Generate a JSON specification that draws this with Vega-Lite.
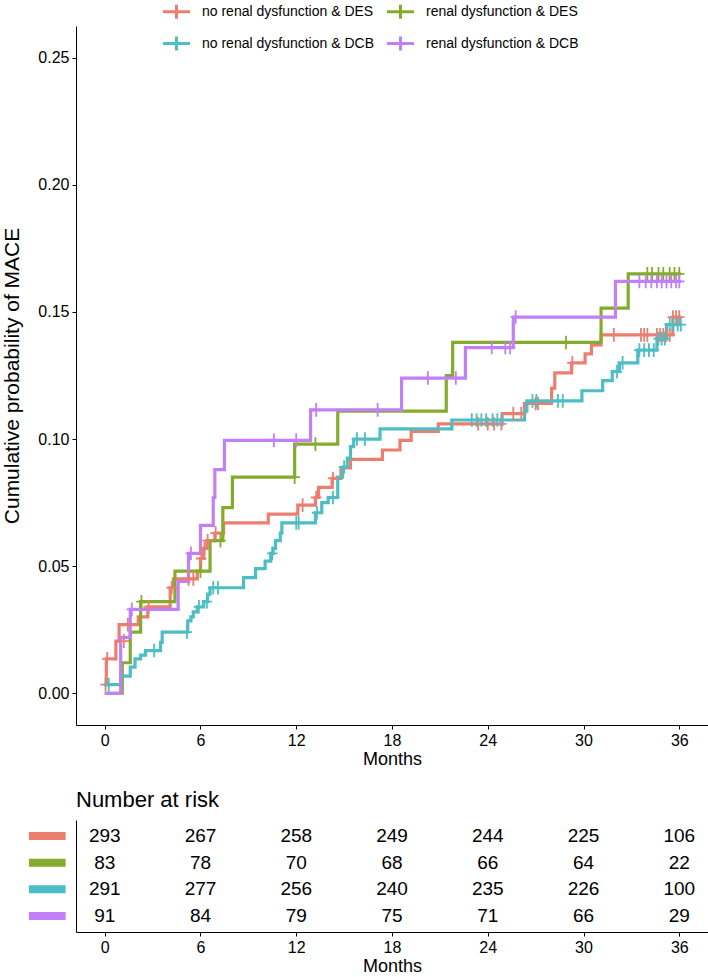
{
  "$schema": "https://vega.github.io/schema/vega-lite/v6.json",
  "padding": {"left": 1, "top": 1, "right": 0, "bottom": 0},
  "bounds": "flush",
  "spacing": 95,
  "config": {
    "font": "Liberation Sans",
    "view": {"stroke": null},
    "axis": {
      "grid": false,
      "domainColor": "black",
      "tickColor": "black",
      "labelColor": "black",
      "titleColor": "black",
      "labelFont": "Liberation Sans",
      "titleFont": "Liberation Sans",
      "labelFontSize": 16,
      "titleFontSize": 18,
      "titleFontWeight": "normal",
      "tickSize": 4,
      "labelPadding": 3
    }
  },
  "datasets": {
    "curves": [
      {"group": "no renal dysfunction & DES", "t": 0, "p": 0.0034},
      {"group": "no renal dysfunction & DES", "t": 0.1, "p": 0.0135},
      {"group": "no renal dysfunction & DES", "t": 0.7, "p": 0.0205},
      {"group": "no renal dysfunction & DES", "t": 0.9, "p": 0.027},
      {"group": "no renal dysfunction & DES", "t": 2.1, "p": 0.030},
      {"group": "no renal dysfunction & DES", "t": 2.7, "p": 0.034},
      {"group": "no renal dysfunction & DES", "t": 4.1, "p": 0.0415},
      {"group": "no renal dysfunction & DES", "t": 4.3, "p": 0.045},
      {"group": "no renal dysfunction & DES", "t": 5.8, "p": 0.048},
      {"group": "no renal dysfunction & DES", "t": 6.0, "p": 0.053},
      {"group": "no renal dysfunction & DES", "t": 6.2, "p": 0.057},
      {"group": "no renal dysfunction & DES", "t": 6.4, "p": 0.060},
      {"group": "no renal dysfunction & DES", "t": 6.9, "p": 0.063},
      {"group": "no renal dysfunction & DES", "t": 7.45, "p": 0.067},
      {"group": "no renal dysfunction & DES", "t": 10.25, "p": 0.0705},
      {"group": "no renal dysfunction & DES", "t": 12.1, "p": 0.074},
      {"group": "no renal dysfunction & DES", "t": 13.2, "p": 0.077},
      {"group": "no renal dysfunction & DES", "t": 13.4, "p": 0.081},
      {"group": "no renal dysfunction & DES", "t": 14.25, "p": 0.0845},
      {"group": "no renal dysfunction & DES", "t": 14.8, "p": 0.0886},
      {"group": "no renal dysfunction & DES", "t": 15.4, "p": 0.092},
      {"group": "no renal dysfunction & DES", "t": 17.4, "p": 0.0957},
      {"group": "no renal dysfunction & DES", "t": 18.5, "p": 0.0995},
      {"group": "no renal dysfunction & DES", "t": 19.2, "p": 0.103},
      {"group": "no renal dysfunction & DES", "t": 20.9, "p": 0.106},
      {"group": "no renal dysfunction & DES", "t": 24.9, "p": 0.110},
      {"group": "no renal dysfunction & DES", "t": 26.3, "p": 0.114},
      {"group": "no renal dysfunction & DES", "t": 28.0, "p": 0.120},
      {"group": "no renal dysfunction & DES", "t": 28.2, "p": 0.126},
      {"group": "no renal dysfunction & DES", "t": 29.25, "p": 0.130},
      {"group": "no renal dysfunction & DES", "t": 30.1, "p": 0.1335},
      {"group": "no renal dysfunction & DES", "t": 30.5, "p": 0.137},
      {"group": "no renal dysfunction & DES", "t": 31.1, "p": 0.141},
      {"group": "no renal dysfunction & DES", "t": 35.6, "p": 0.148},
      {"group": "no renal dysfunction & DES", "t": 36.1, "p": 0.148},
      {"group": "renal dysfunction & DES", "t": 0, "p": 0},
      {"group": "renal dysfunction & DES", "t": 1.1, "p": 0.012},
      {"group": "renal dysfunction & DES", "t": 1.6, "p": 0.024},
      {"group": "renal dysfunction & DES", "t": 2.25, "p": 0.036},
      {"group": "renal dysfunction & DES", "t": 4.4, "p": 0.048},
      {"group": "renal dysfunction & DES", "t": 6.6, "p": 0.060},
      {"group": "renal dysfunction & DES", "t": 7.4, "p": 0.073},
      {"group": "renal dysfunction & DES", "t": 8.0, "p": 0.085},
      {"group": "renal dysfunction & DES", "t": 11.9, "p": 0.098},
      {"group": "renal dysfunction & DES", "t": 14.6, "p": 0.111},
      {"group": "renal dysfunction & DES", "t": 21.4, "p": 0.125},
      {"group": "renal dysfunction & DES", "t": 21.8, "p": 0.138},
      {"group": "renal dysfunction & DES", "t": 31.1, "p": 0.1515},
      {"group": "renal dysfunction & DES", "t": 32.8, "p": 0.165},
      {"group": "renal dysfunction & DES", "t": 36.1, "p": 0.165},
      {"group": "no renal dysfunction & DCB", "t": 0, "p": 0.0034},
      {"group": "no renal dysfunction & DCB", "t": 1.0, "p": 0.0067},
      {"group": "no renal dysfunction & DCB", "t": 1.6, "p": 0.0103},
      {"group": "no renal dysfunction & DCB", "t": 1.9, "p": 0.0135},
      {"group": "no renal dysfunction & DCB", "t": 2.25, "p": 0.015},
      {"group": "no renal dysfunction & DCB", "t": 2.55, "p": 0.0168},
      {"group": "no renal dysfunction & DCB", "t": 3.5, "p": 0.020},
      {"group": "no renal dysfunction & DCB", "t": 3.6, "p": 0.024},
      {"group": "no renal dysfunction & DCB", "t": 5.2, "p": 0.0285},
      {"group": "no renal dysfunction & DCB", "t": 5.4, "p": 0.030},
      {"group": "no renal dysfunction & DCB", "t": 5.55, "p": 0.032},
      {"group": "no renal dysfunction & DCB", "t": 5.8, "p": 0.034},
      {"group": "no renal dysfunction & DCB", "t": 6.2, "p": 0.036},
      {"group": "no renal dysfunction & DCB", "t": 6.45, "p": 0.039},
      {"group": "no renal dysfunction & DCB", "t": 6.6, "p": 0.0415},
      {"group": "no renal dysfunction & DCB", "t": 8.7, "p": 0.0455},
      {"group": "no renal dysfunction & DCB", "t": 9.45, "p": 0.049},
      {"group": "no renal dysfunction & DCB", "t": 10.05, "p": 0.052},
      {"group": "no renal dysfunction & DCB", "t": 10.4, "p": 0.055},
      {"group": "no renal dysfunction & DCB", "t": 10.55, "p": 0.057},
      {"group": "no renal dysfunction & DCB", "t": 10.7, "p": 0.060},
      {"group": "no renal dysfunction & DCB", "t": 11.0, "p": 0.063},
      {"group": "no renal dysfunction & DCB", "t": 11.1, "p": 0.067},
      {"group": "no renal dysfunction & DCB", "t": 13.2, "p": 0.071},
      {"group": "no renal dysfunction & DCB", "t": 13.6, "p": 0.075},
      {"group": "no renal dysfunction & DCB", "t": 14.0, "p": 0.077},
      {"group": "no renal dysfunction & DCB", "t": 14.6, "p": 0.085},
      {"group": "no renal dysfunction & DCB", "t": 14.9, "p": 0.089},
      {"group": "no renal dysfunction & DCB", "t": 15.2, "p": 0.0925},
      {"group": "no renal dysfunction & DCB", "t": 15.4, "p": 0.097},
      {"group": "no renal dysfunction & DCB", "t": 15.6, "p": 0.100},
      {"group": "no renal dysfunction & DCB", "t": 17.25, "p": 0.104},
      {"group": "no renal dysfunction & DCB", "t": 21.75, "p": 0.1075},
      {"group": "no renal dysfunction & DCB", "t": 26.3, "p": 0.111},
      {"group": "no renal dysfunction & DCB", "t": 26.45, "p": 0.115},
      {"group": "no renal dysfunction & DCB", "t": 29.9, "p": 0.119},
      {"group": "no renal dysfunction & DCB", "t": 31.2, "p": 0.123},
      {"group": "no renal dysfunction & DCB", "t": 31.8, "p": 0.1265},
      {"group": "no renal dysfunction & DCB", "t": 32.25, "p": 0.130},
      {"group": "no renal dysfunction & DCB", "t": 33.4, "p": 0.135},
      {"group": "no renal dysfunction & DCB", "t": 34.6, "p": 0.1395},
      {"group": "no renal dysfunction & DCB", "t": 35.2, "p": 0.145},
      {"group": "no renal dysfunction & DCB", "t": 36.1, "p": 0.145},
      {"group": "renal dysfunction & DCB", "t": 0, "p": 0},
      {"group": "renal dysfunction & DCB", "t": 1.0, "p": 0.022},
      {"group": "renal dysfunction & DCB", "t": 1.6, "p": 0.033},
      {"group": "renal dysfunction & DCB", "t": 4.6, "p": 0.044},
      {"group": "renal dysfunction & DCB", "t": 5.25, "p": 0.055},
      {"group": "renal dysfunction & DCB", "t": 6.0, "p": 0.066},
      {"group": "renal dysfunction & DCB", "t": 6.8, "p": 0.077},
      {"group": "renal dysfunction & DCB", "t": 6.9, "p": 0.088},
      {"group": "renal dysfunction & DCB", "t": 7.5, "p": 0.0995},
      {"group": "renal dysfunction & DCB", "t": 12.9, "p": 0.1115},
      {"group": "renal dysfunction & DCB", "t": 18.6, "p": 0.124},
      {"group": "renal dysfunction & DCB", "t": 22.6, "p": 0.136},
      {"group": "renal dysfunction & DCB", "t": 25.6, "p": 0.148},
      {"group": "renal dysfunction & DCB", "t": 32.0, "p": 0.162},
      {"group": "renal dysfunction & DCB", "t": 36.1, "p": 0.162}
    ],
    "censors": [
      {"group": "no renal dysfunction & DES", "t": 0.05, "p": 0.0034},
      {"group": "no renal dysfunction & DES", "t": 0.15, "p": 0.0135},
      {"group": "no renal dysfunction & DES", "t": 1.2, "p": 0.0205},
      {"group": "no renal dysfunction & DES", "t": 1.45, "p": 0.027},
      {"group": "no renal dysfunction & DES", "t": 2.75, "p": 0.034},
      {"group": "no renal dysfunction & DES", "t": 4.2, "p": 0.0415},
      {"group": "no renal dysfunction & DES", "t": 5.25, "p": 0.045},
      {"group": "no renal dysfunction & DES", "t": 5.55, "p": 0.045},
      {"group": "no renal dysfunction & DES", "t": 6.05, "p": 0.053},
      {"group": "no renal dysfunction & DES", "t": 6.25, "p": 0.057},
      {"group": "no renal dysfunction & DES", "t": 6.45, "p": 0.060},
      {"group": "no renal dysfunction & DES", "t": 6.95, "p": 0.063},
      {"group": "no renal dysfunction & DES", "t": 12.4, "p": 0.074},
      {"group": "no renal dysfunction & DES", "t": 13.25, "p": 0.077},
      {"group": "no renal dysfunction & DES", "t": 14.3, "p": 0.0845},
      {"group": "no renal dysfunction & DES", "t": 23.4, "p": 0.106},
      {"group": "no renal dysfunction & DES", "t": 24.0, "p": 0.106},
      {"group": "no renal dysfunction & DES", "t": 24.4, "p": 0.106},
      {"group": "no renal dysfunction & DES", "t": 24.85, "p": 0.106},
      {"group": "no renal dysfunction & DES", "t": 25.6, "p": 0.110},
      {"group": "no renal dysfunction & DES", "t": 26.1, "p": 0.110},
      {"group": "no renal dysfunction & DES", "t": 27.0, "p": 0.114},
      {"group": "no renal dysfunction & DES", "t": 27.15, "p": 0.114},
      {"group": "no renal dysfunction & DES", "t": 29.3, "p": 0.130},
      {"group": "no renal dysfunction & DES", "t": 31.9, "p": 0.141},
      {"group": "no renal dysfunction & DES", "t": 33.6, "p": 0.141},
      {"group": "no renal dysfunction & DES", "t": 33.8, "p": 0.141},
      {"group": "no renal dysfunction & DES", "t": 34.0, "p": 0.141},
      {"group": "no renal dysfunction & DES", "t": 34.6, "p": 0.141},
      {"group": "no renal dysfunction & DES", "t": 34.8, "p": 0.141},
      {"group": "no renal dysfunction & DES", "t": 35.0, "p": 0.141},
      {"group": "no renal dysfunction & DES", "t": 35.2, "p": 0.141},
      {"group": "no renal dysfunction & DES", "t": 35.4, "p": 0.141},
      {"group": "no renal dysfunction & DES", "t": 35.6, "p": 0.148},
      {"group": "no renal dysfunction & DES", "t": 35.8, "p": 0.148},
      {"group": "no renal dysfunction & DES", "t": 36.0, "p": 0.148},
      {"group": "renal dysfunction & DES", "t": 2.3, "p": 0.036},
      {"group": "renal dysfunction & DES", "t": 6.0, "p": 0.048},
      {"group": "renal dysfunction & DES", "t": 7.25, "p": 0.060},
      {"group": "renal dysfunction & DES", "t": 11.9, "p": 0.085},
      {"group": "renal dysfunction & DES", "t": 13.2, "p": 0.098},
      {"group": "renal dysfunction & DES", "t": 28.9, "p": 0.138},
      {"group": "renal dysfunction & DES", "t": 34.0, "p": 0.165},
      {"group": "renal dysfunction & DES", "t": 34.3, "p": 0.165},
      {"group": "renal dysfunction & DES", "t": 34.7, "p": 0.165},
      {"group": "renal dysfunction & DES", "t": 35.0, "p": 0.165},
      {"group": "renal dysfunction & DES", "t": 35.4, "p": 0.165},
      {"group": "renal dysfunction & DES", "t": 35.7, "p": 0.165},
      {"group": "renal dysfunction & DES", "t": 36.0, "p": 0.165},
      {"group": "no renal dysfunction & DCB", "t": 0.25, "p": 0.0034},
      {"group": "no renal dysfunction & DCB", "t": 3.1, "p": 0.0168},
      {"group": "no renal dysfunction & DCB", "t": 5.15, "p": 0.024},
      {"group": "no renal dysfunction & DCB", "t": 5.9, "p": 0.034},
      {"group": "no renal dysfunction & DCB", "t": 6.4, "p": 0.036},
      {"group": "no renal dysfunction & DCB", "t": 6.8, "p": 0.0415},
      {"group": "no renal dysfunction & DCB", "t": 7.1, "p": 0.0415},
      {"group": "no renal dysfunction & DCB", "t": 10.5, "p": 0.055},
      {"group": "no renal dysfunction & DCB", "t": 12.0, "p": 0.067},
      {"group": "no renal dysfunction & DCB", "t": 12.15, "p": 0.067},
      {"group": "no renal dysfunction & DCB", "t": 13.3, "p": 0.071},
      {"group": "no renal dysfunction & DCB", "t": 14.3, "p": 0.077},
      {"group": "no renal dysfunction & DCB", "t": 15.0, "p": 0.089},
      {"group": "no renal dysfunction & DCB", "t": 15.8, "p": 0.100},
      {"group": "no renal dysfunction & DCB", "t": 16.3, "p": 0.100},
      {"group": "no renal dysfunction & DCB", "t": 23.0, "p": 0.1075},
      {"group": "no renal dysfunction & DCB", "t": 23.3, "p": 0.1075},
      {"group": "no renal dysfunction & DCB", "t": 23.6, "p": 0.1075},
      {"group": "no renal dysfunction & DCB", "t": 23.9, "p": 0.1075},
      {"group": "no renal dysfunction & DCB", "t": 24.3, "p": 0.1075},
      {"group": "no renal dysfunction & DCB", "t": 24.6, "p": 0.1075},
      {"group": "no renal dysfunction & DCB", "t": 24.9, "p": 0.1075},
      {"group": "no renal dysfunction & DCB", "t": 26.8, "p": 0.115},
      {"group": "no renal dysfunction & DCB", "t": 27.05, "p": 0.115},
      {"group": "no renal dysfunction & DCB", "t": 28.4, "p": 0.115},
      {"group": "no renal dysfunction & DCB", "t": 28.7, "p": 0.115},
      {"group": "no renal dysfunction & DCB", "t": 32.1, "p": 0.1265},
      {"group": "no renal dysfunction & DCB", "t": 32.45, "p": 0.130},
      {"group": "no renal dysfunction & DCB", "t": 33.5, "p": 0.135},
      {"group": "no renal dysfunction & DCB", "t": 33.8, "p": 0.135},
      {"group": "no renal dysfunction & DCB", "t": 34.1, "p": 0.135},
      {"group": "no renal dysfunction & DCB", "t": 34.4, "p": 0.135},
      {"group": "no renal dysfunction & DCB", "t": 34.7, "p": 0.1395},
      {"group": "no renal dysfunction & DCB", "t": 34.9, "p": 0.1395},
      {"group": "no renal dysfunction & DCB", "t": 35.1, "p": 0.1395},
      {"group": "no renal dysfunction & DCB", "t": 35.4, "p": 0.145},
      {"group": "no renal dysfunction & DCB", "t": 35.6, "p": 0.145},
      {"group": "no renal dysfunction & DCB", "t": 35.9, "p": 0.145},
      {"group": "no renal dysfunction & DCB", "t": 36.1, "p": 0.145},
      {"group": "renal dysfunction & DCB", "t": 1.7, "p": 0.033},
      {"group": "renal dysfunction & DCB", "t": 5.4, "p": 0.055},
      {"group": "renal dysfunction & DCB", "t": 10.6, "p": 0.0995},
      {"group": "renal dysfunction & DCB", "t": 12.0, "p": 0.0995},
      {"group": "renal dysfunction & DCB", "t": 13.25, "p": 0.1115},
      {"group": "renal dysfunction & DCB", "t": 17.1, "p": 0.1115},
      {"group": "renal dysfunction & DCB", "t": 20.25, "p": 0.124},
      {"group": "renal dysfunction & DCB", "t": 22.0, "p": 0.124},
      {"group": "renal dysfunction & DCB", "t": 24.25, "p": 0.136},
      {"group": "renal dysfunction & DCB", "t": 25.1, "p": 0.136},
      {"group": "renal dysfunction & DCB", "t": 25.4, "p": 0.136},
      {"group": "renal dysfunction & DCB", "t": 25.75, "p": 0.148},
      {"group": "renal dysfunction & DCB", "t": 33.5, "p": 0.162},
      {"group": "renal dysfunction & DCB", "t": 33.9, "p": 0.162},
      {"group": "renal dysfunction & DCB", "t": 34.25, "p": 0.162},
      {"group": "renal dysfunction & DCB", "t": 34.6, "p": 0.162},
      {"group": "renal dysfunction & DCB", "t": 34.9, "p": 0.162},
      {"group": "renal dysfunction & DCB", "t": 35.2, "p": 0.162},
      {"group": "renal dysfunction & DCB", "t": 35.5, "p": 0.162},
      {"group": "renal dysfunction & DCB", "t": 35.8, "p": 0.162},
      {"group": "renal dysfunction & DCB", "t": 36.0, "p": 0.162}
    ],
    "risk": [
      {"group": "no renal dysfunction & DES", "t": 0, "n": 293},
      {"group": "no renal dysfunction & DES", "t": 6, "n": 267},
      {"group": "no renal dysfunction & DES", "t": 12, "n": 258},
      {"group": "no renal dysfunction & DES", "t": 18, "n": 249},
      {"group": "no renal dysfunction & DES", "t": 24, "n": 244},
      {"group": "no renal dysfunction & DES", "t": 30, "n": 225},
      {"group": "no renal dysfunction & DES", "t": 36, "n": 106},
      {"group": "renal dysfunction & DES", "t": 0, "n": 83},
      {"group": "renal dysfunction & DES", "t": 6, "n": 78},
      {"group": "renal dysfunction & DES", "t": 12, "n": 70},
      {"group": "renal dysfunction & DES", "t": 18, "n": 68},
      {"group": "renal dysfunction & DES", "t": 24, "n": 66},
      {"group": "renal dysfunction & DES", "t": 30, "n": 64},
      {"group": "renal dysfunction & DES", "t": 36, "n": 22},
      {"group": "no renal dysfunction & DCB", "t": 0, "n": 291},
      {"group": "no renal dysfunction & DCB", "t": 6, "n": 277},
      {"group": "no renal dysfunction & DCB", "t": 12, "n": 256},
      {"group": "no renal dysfunction & DCB", "t": 18, "n": 240},
      {"group": "no renal dysfunction & DCB", "t": 24, "n": 235},
      {"group": "no renal dysfunction & DCB", "t": 30, "n": 226},
      {"group": "no renal dysfunction & DCB", "t": 36, "n": 100},
      {"group": "renal dysfunction & DCB", "t": 0, "n": 91},
      {"group": "renal dysfunction & DCB", "t": 6, "n": 84},
      {"group": "renal dysfunction & DCB", "t": 12, "n": 79},
      {"group": "renal dysfunction & DCB", "t": 18, "n": 75},
      {"group": "renal dysfunction & DCB", "t": 24, "n": 71},
      {"group": "renal dysfunction & DCB", "t": 30, "n": 66},
      {"group": "renal dysfunction & DCB", "t": 36, "n": 29}
    ],
    "groups": [
      {"group": "no renal dysfunction & DES"},
      {"group": "renal dysfunction & DES"},
      {"group": "no renal dysfunction & DCB"},
      {"group": "renal dysfunction & DCB"}
    ]
  },
  "vconcat": [
    {
      "width": 632,
      "height": 699,
      "encoding": {
        "x": {
          "field": "t",
          "type": "quantitative",
          "scale": {"domain": [-1.8, 37.8], "nice": false, "zero": false},
          "axis": {"values": [0, 6, 12, 18, 24, 30, 36], "title": "Months", "titlePadding": 2}
        },
        "y": {
          "field": "p",
          "type": "quantitative",
          "scale": {"domain": [-0.0125, 0.2625], "nice": false, "zero": false},
          "axis": {"values": [0, 0.05, 0.1, 0.15, 0.2, 0.25], "format": ".2f", "title": "Cumulative probability of MACE", "titleFontSize": 21, "titlePadding": 15}
        },
        "color": {
          "field": "group",
          "type": "nominal",
          "scale": {
            "domain": ["no renal dysfunction & DES", "renal dysfunction & DES", "no renal dysfunction & DCB", "renal dysfunction & DCB"],
            "range": ["#EC7E70", "#84AC2C", "#4DBEC4", "#C17FF8"]
          },
          "legend": {
            "title": null,
            "orient": "none",
            "direction": "horizontal",
            "legendX": 90,
            "legendY": -25,
            "columns": 2,
            "columnPadding": 7,
            "rowPadding": 5,
            "symbolType": "M-1.5,0L1.5,0M0,-0.78L0,0.78",
            "symbolSize": 324,
            "symbolStrokeWidth": 3,
            "symbolFillColor": "transparent",
            "labelOffset": 15,
            "labelFont": "Liberation Sans",
            "labelFontSize": 14,
            "labelColor": "black",
            "labelLimit": 300
          }
        }
      },
      "layer": [
        {
          "data": {"name": "curves"},
          "mark": {"type": "line", "interpolate": "step-after", "strokeWidth": 3.2}
        },
        {
          "data": {"name": "censors"},
          "mark": {"type": "point", "shape": "M-1,0L1,0M0,-1.3L0,1.3", "filled": false, "size": 110, "strokeWidth": 1.8, "opacity": 1}
        }
      ]
    },
    {
      "width": 632,
      "height": 112,
      "title": {"text": "Number at risk", "anchor": "start", "frame": "group", "fontSize": 22, "fontWeight": "normal", "font": "Liberation Sans", "color": "black", "offset": 8},
      "encoding": {
        "x": {
          "type": "quantitative",
          "scale": {"domain": [-1.8, 37.8], "nice": false, "zero": false},
          "axis": {"values": [0, 6, 12, 18, 24, 30, 36], "title": "Months", "titlePadding": 2}
        },
        "y": {
          "field": "group",
          "type": "nominal",
          "sort": ["no renal dysfunction & DES", "renal dysfunction & DES", "no renal dysfunction & DCB", "renal dysfunction & DCB"],
          "scale": {"type": "point", "padding": 0.6},
          "axis": {"title": null, "ticks": false, "labels": false}
        }
      },
      "layer": [
        {
          "data": {"name": "risk"},
          "mark": {"type": "text", "fontSize": 19, "color": "black", "font": "Liberation Sans"},
          "encoding": {
            "x": {"field": "t", "type": "quantitative"},
            "text": {"field": "n", "type": "quantitative"}
          }
        },
        {
          "data": {"name": "groups"},
          "mark": {"type": "rule", "strokeWidth": 8, "strokeCap": "butt"},
          "encoding": {
            "x": {"datum": -4.75},
            "x2": {"datum": -2.45},
            "color": {
              "field": "group",
              "type": "nominal",
              "scale": {
                "domain": ["no renal dysfunction & DES", "renal dysfunction & DES", "no renal dysfunction & DCB", "renal dysfunction & DCB"],
                "range": ["#EC7E70", "#84AC2C", "#4DBEC4", "#C17FF8"]
              },
              "legend": null
            }
          }
        }
      ]
    }
  ]
}
